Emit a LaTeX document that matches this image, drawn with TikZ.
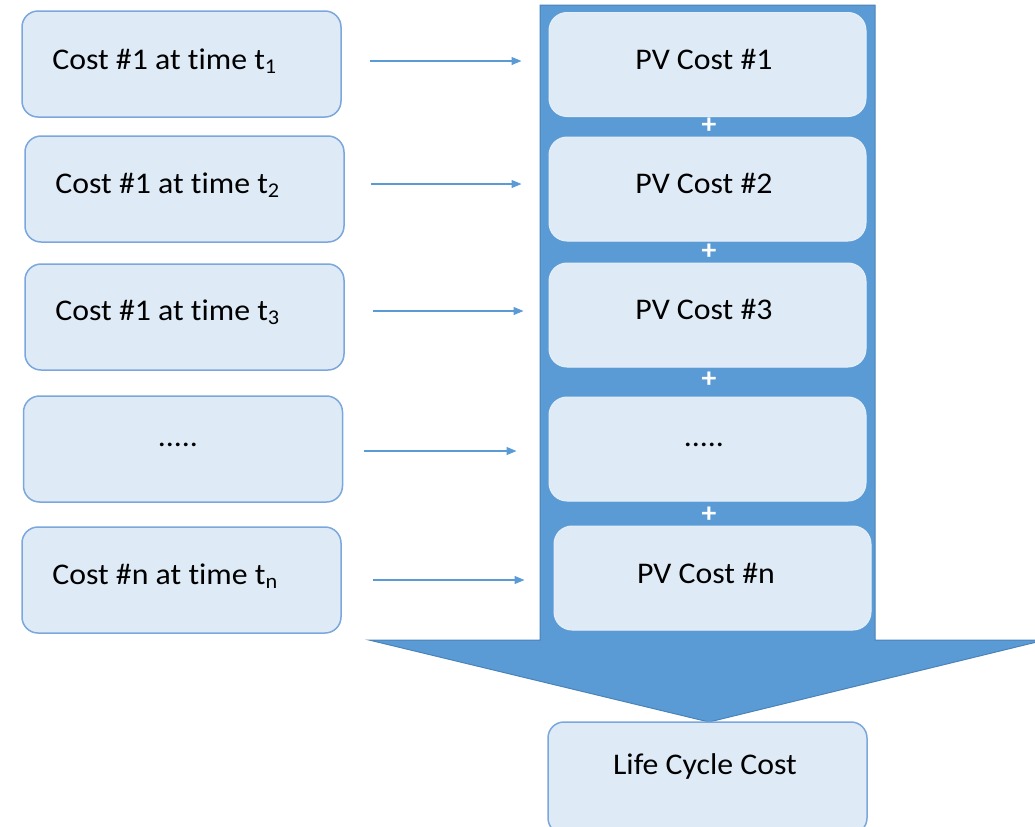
\documentclass[tikz,border=0pt]{standalone}
\usepackage{fontspec}
\setmainfont{Carlito}[FakeStretch=1.06, Ligatures=NoCommon]
\usetikzlibrary{arrows.meta}
\definecolor{boxfill}{HTML}{DEEBF7}
\definecolor{boxline}{HTML}{7BA7DC}
\definecolor{bigblue}{HTML}{5B9BD5}
\definecolor{bigline}{HTML}{4A83B8}
\tikzset{
  costbox/.style={draw=boxline, line width=0.75pt, fill=boxfill, rounded corners=8pt, minimum width=159.5pt, minimum height=53pt, inner sep=0pt},
  pvbox/.style={draw=boxfill!80!white, line width=0.5pt, fill=boxfill, rounded corners=9pt, minimum width=158.5pt, minimum height=52pt, inner sep=0pt},
  lbl/.style={inner sep=0pt, font=\fontsize{15}{18}\selectfont},
  plus/.style={inner sep=0pt, text=white, font=\bfseries\fontsize{14}{14}\selectfont},
  arr/.style={draw=bigblue, line width=0.6pt, -{Triangle[length=5pt,width=4pt]}},
}
\begin{document}
\begin{tikzpicture}[x=0.5pt,y=-0.5pt]
\useasboundingbox (0,0) rectangle (1035,826);
\clip (0,0) rectangle (1035,826);
% big arrow
\path[fill=bigblue, draw=bigline, line width=0.5pt]
  (540,5) -- (875,5) -- (875,640) -- (1045,640) -- (709,722) -- (369,640) -- (540,640) -- cycle;
% left boxes
\node[costbox] (c1) at (181.5,64) {};
\node[costbox] (c2) at (184.5,189) {};
\node[costbox] (c3) at (184.5,317) {};
\node[costbox] (c4) at (183,449) {};
\node[costbox] (c5) at (181.5,580) {};
\node[lbl, anchor=west] (ct1) at (52,61) {Cost \#1 at time t\textsubscript{1}};
\node[lbl, anchor=west] (ct2) at (55,185) {Cost \#1 at time t\textsubscript{2}};
\node[lbl, anchor=west] (ct3) at (55,312) {Cost \#1 at time t\textsubscript{3}};
\node[lbl] (ct4) at (178,445) {.....};
\node[lbl, anchor=west] (ct5) at (52,576) {Cost \#n at time t\textsubscript{n}};
% right boxes
\node[pvbox] (pv1) at (707.5,64.5) {};
\node[pvbox] (pv2) at (707.5,189) {};
\node[pvbox] (pv3) at (707.5,315) {};
\node[pvbox] (pv4) at (707.5,449) {};
\node[pvbox] (pv5) at (712.5,578) {};
\node[lbl] (pt1) at (704,59) {PV Cost \#1};
\node[lbl] (pt2) at (704,183) {PV Cost \#2};
\node[lbl] (pt3) at (704,309) {PV Cost \#3};
\node[lbl] (pt4) at (704,445) {.....};
\node[lbl] (pt5) at (706,573) {PV Cost \#n};
% plus signs
\node[plus] (p1) at (709,126) {+};
\node[plus] (p2) at (709,252) {+};
\node[plus] (p3) at (709,380) {+};
\node[plus] (p4) at (709,515) {+};
% life cycle cost
\node[costbox, minimum height=56pt] (lcc) at (707.5,778) {};
\node[lbl] (lct) at (705,766) {Life Cycle Cost};
% connectors
\coordinate (a1) at (c1.east |- 0,61);   \coordinate (b1) at (pv1.west |- 0,61);
\coordinate (a2) at (c2.east |- 0,184);  \coordinate (b2) at (pv2.west |- 0,184);
\coordinate (a3) at (c3.east |- 0,311);  \coordinate (b3) at (pv3.west |- 0,311);
\coordinate (a4) at (c4.east |- 0,451);  \coordinate (b4) at (pv4.west |- 0,451);
\coordinate (a5) at (c5.east |- 0,580);  \coordinate (b5) at (pv5.west |- 0,580);
\draw[arr, shorten <=14pt, shorten >=13.5pt] (a1) -- (b1);
\draw[arr, shorten <=13pt, shorten >=13.5pt] (a2) -- (b2);
\draw[arr, shorten <=14pt, shorten >=12.5pt] (a3) -- (b3);
\draw[arr, shorten <=10.5pt, shorten >=16pt] (a4) -- (b4);
\draw[arr, shorten <=15.5pt, shorten >=14.5pt] (a5) -- (b5);
\end{tikzpicture}
\end{document}
